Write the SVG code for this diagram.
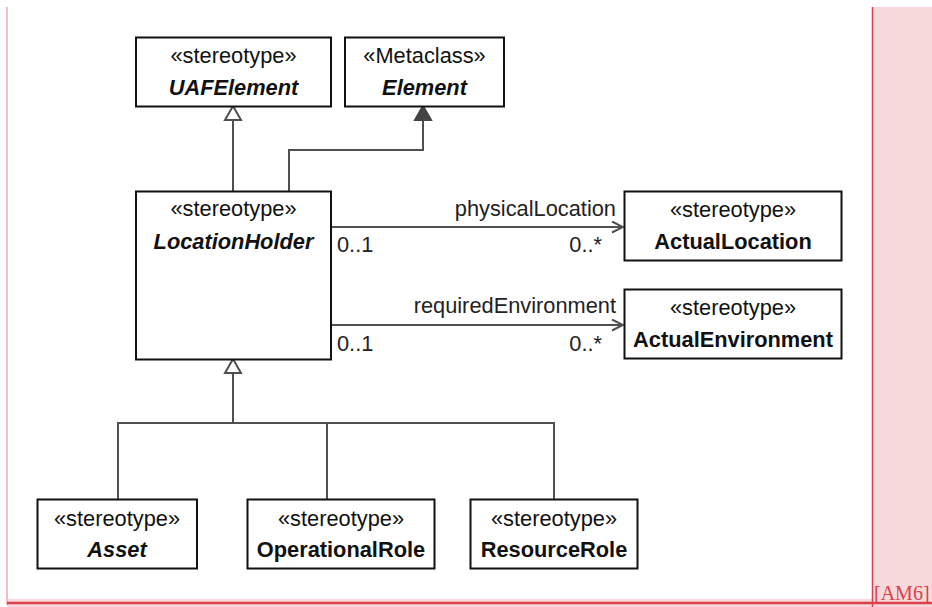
<svg xmlns="http://www.w3.org/2000/svg" width="932" height="607" viewBox="0 0 932 607">
<style>
.box{fill:#fff;stroke:#111;stroke-width:2}
.st{font-family:"Liberation Sans",Arial,sans-serif;font-size:21.8px;fill:#111;text-anchor:middle}
.nm{font-family:"Liberation Sans",Arial,sans-serif;font-size:21.8px;font-weight:bold;fill:#111;text-anchor:middle}
.it{font-style:italic}
.lbl{font-family:"Liberation Sans",Arial,sans-serif;font-size:21.8px;fill:#222}
.ln{fill:none;stroke:#505050;stroke-width:2}
</style>
<defs>
<marker id="open" markerWidth="14" markerHeight="14" refX="12" refY="6" orient="auto" markerUnits="userSpaceOnUse">
<path d="M1,0.5 L12,6 L1,11.5" fill="none" stroke="#505050" stroke-width="2"/>
</marker>
</defs>
<rect x="0" y="0" width="932" height="607" fill="#fff"/>
<rect x="873" y="7" width="59" height="600" fill="#f7d9dc"/>
<rect x="7" y="599" width="925" height="8" fill="#f7d9dc"/>
<line x1="7" y1="7" x2="7" y2="605" stroke="#f2a9b0" stroke-width="1.5"/>
<line x1="872.5" y1="7" x2="872.5" y2="607" stroke="#d9414b" stroke-width="1.5"/>
<line x1="7" y1="603" x2="932" y2="603" stroke="#d9414b" stroke-width="2.5"/>
<text x="874" y="600" font-family="'Liberation Serif','Times New Roman',serif" font-size="20" fill="#d9414b">[AM6]</text>

<g id="connectors">
<polyline class="ln" points="233,191 233,120"/>
<polygon points="233,106 225,120 241,120" fill="#fff" stroke="#505050" stroke-width="2"/>
<polyline class="ln" points="289,191 289,150 423,150 423,120"/>
<polygon points="423,106 415,120 431,120" fill="#444" stroke="#444" stroke-width="2"/>
<line class="ln" x1="331" y1="227" x2="623" y2="227" marker-end="url(#open)"/>
<text class="lbl" x="616" y="216" text-anchor="end">physicalLocation</text>
<text class="lbl" x="337" y="252">0..1</text>
<text class="lbl" x="602" y="252" text-anchor="end">0..*</text>
<line class="ln" x1="331" y1="325" x2="623" y2="325" marker-end="url(#open)"/>
<text class="lbl" x="616" y="313" text-anchor="end">requiredEnvironment</text>
<text class="lbl" x="337" y="351">0..1</text>
<text class="lbl" x="602" y="351" text-anchor="end">0..*</text>
<polygon points="233,359 225,373 241,373" fill="#fff" stroke="#505050" stroke-width="2"/>
<polyline class="ln" points="233,373 233,423"/>
<polyline class="ln" points="118,499 118,423 554,423 554,499"/>
<polyline class="ln" points="327,423 327,499"/>
</g>

<g id="UAFElement">
<rect class="box" x="136" y="37.5" width="195" height="69"/>
<text class="st" x="233.5" y="63">«stereotype»</text>
<text class="nm it" x="233.5" y="95">UAFElement</text>
</g>
<g id="Element">
<rect class="box" x="345" y="37.5" width="159" height="69"/>
<text class="st" x="424.5" y="63">«Metaclass»</text>
<text class="nm it" x="424.5" y="95">Element</text>
</g>
<g id="LocationHolder">
<rect class="box" x="136" y="191.5" width="195" height="168"/>
<text class="st" x="233.5" y="216">«stereotype»</text>
<text class="nm it" x="233.5" y="249">LocationHolder</text>
</g>
<g id="ActualLocation">
<rect class="box" x="624.5" y="191.5" width="217" height="69"/>
<text class="st" x="733" y="217">«stereotype»</text>
<text class="nm" x="733" y="249">ActualLocation</text>
</g>
<g id="ActualEnvironment">
<rect class="box" x="624.5" y="289.5" width="217" height="69"/>
<text class="st" x="733" y="315">«stereotype»</text>
<text class="nm" x="733" y="347">ActualEnvironment</text>
</g>
<g id="Asset">
<rect class="box" x="37.5" y="499.5" width="159.5" height="69"/>
<text class="st" x="117" y="526">«stereotype»</text>
<text class="nm it" x="117" y="557">Asset</text>
</g>
<g id="OperationalRole">
<rect class="box" x="247.5" y="499.5" width="187" height="69"/>
<text class="st" x="341" y="526">«stereotype»</text>
<text class="nm" x="341" y="557">OperationalRole</text>
</g>
<g id="ResourceRole">
<rect class="box" x="470.5" y="499.5" width="167" height="69"/>
<text class="st" x="554" y="526">«stereotype»</text>
<text class="nm" x="554" y="557">ResourceRole</text>
</g>
</svg>
